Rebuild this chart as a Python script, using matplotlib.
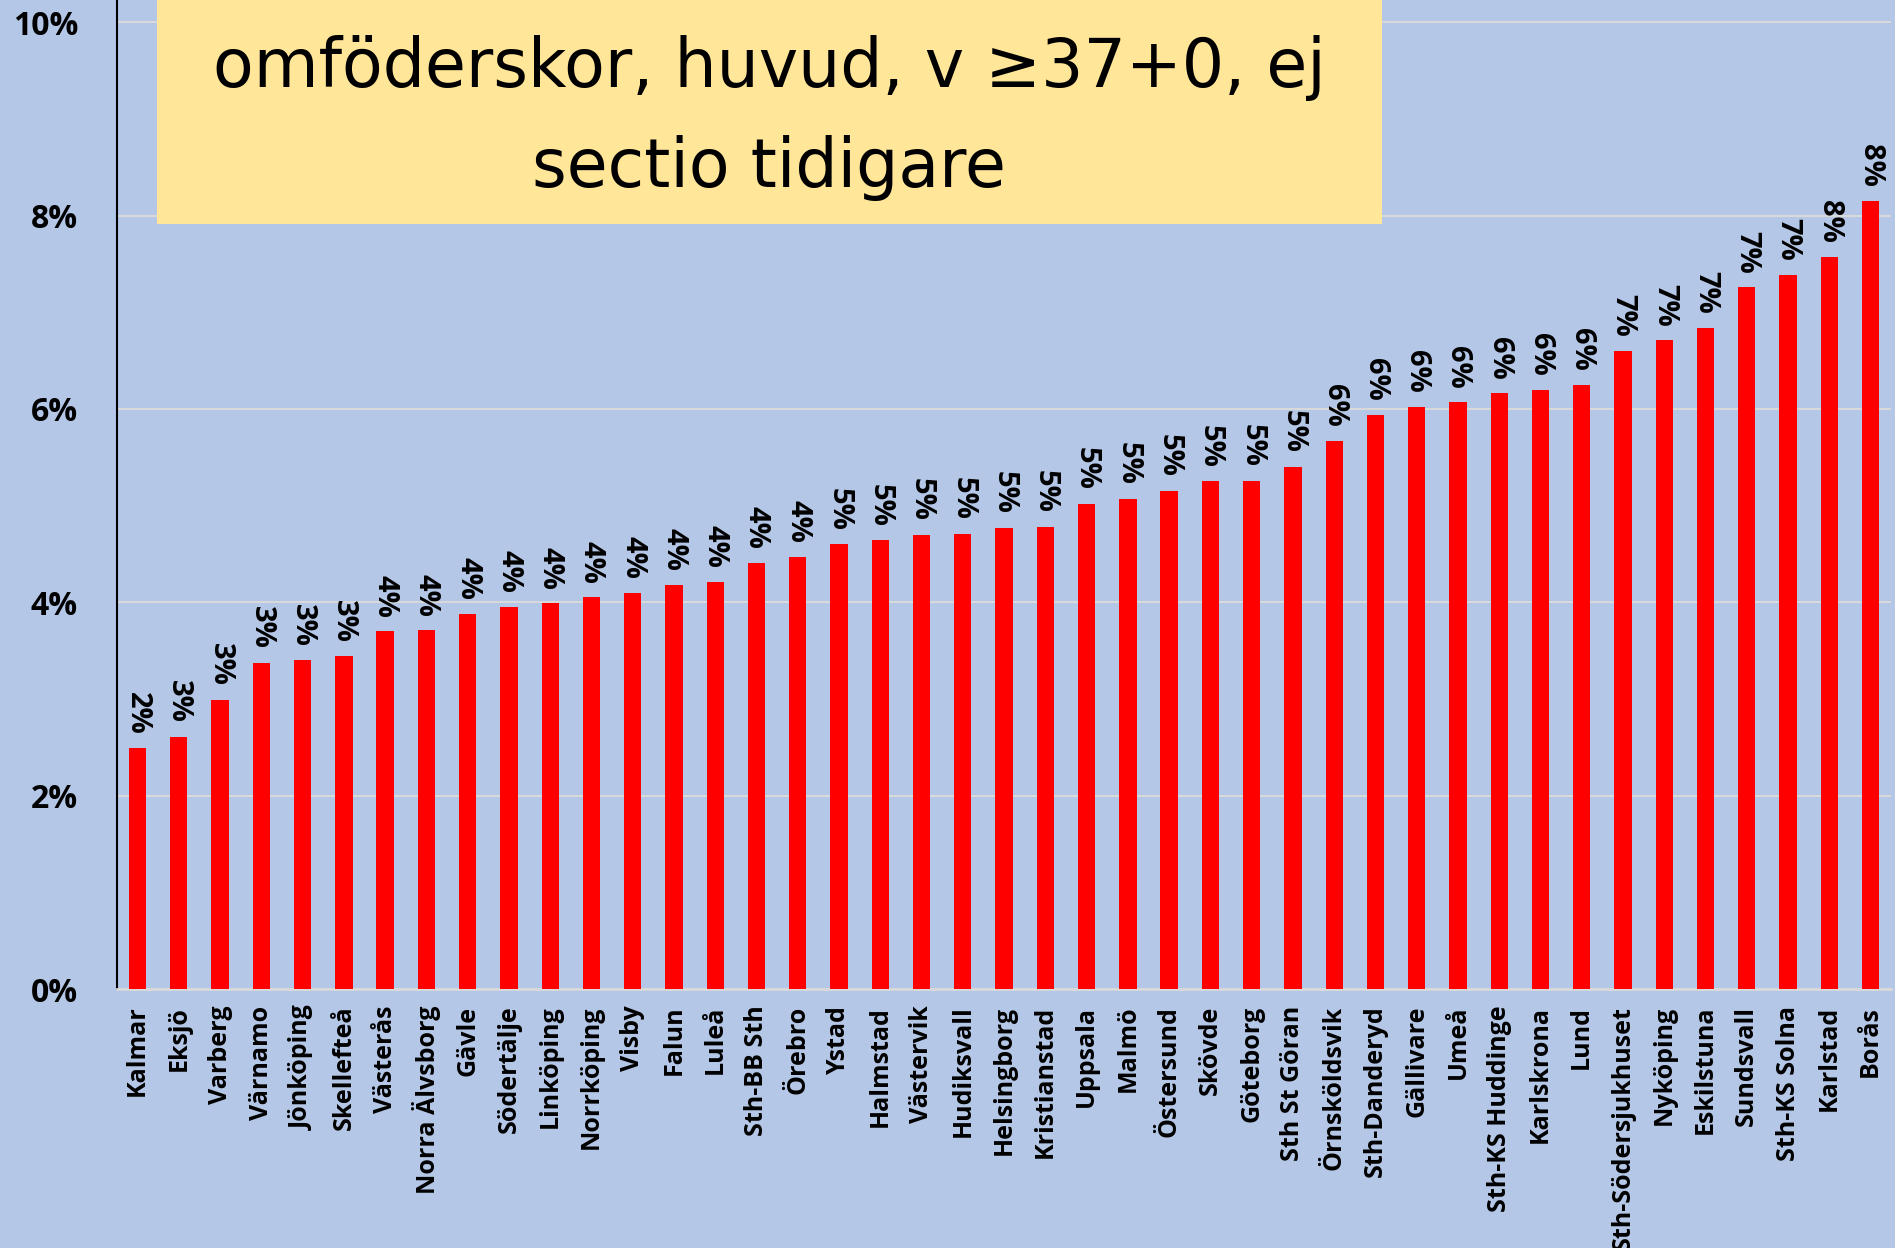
import matplotlib
matplotlib.use('Agg')
import matplotlib.pyplot as plt
from matplotlib.patches import Rectangle
from matplotlib.ticker import FuncFormatter

# kliniker och andel (%) omföderskor med huvudbjudning, v >=37+0, ej sectio tidigare
kliniker = ['Kalmar', 'Eksjö', 'Varberg', 'Värnamo', 'Jönköping', 'Skellefteå',
            'Västerås', 'Norra Älvsborg', 'Gävle', 'Södertälje', 'Linköping',
            'Norrköping', 'Visby', 'Falun', 'Luleå', 'Sth-BB Sth', 'Örebro',
            'Ystad', 'Halmstad', 'Västervik', 'Hudiksvall', 'Helsingborg',
            'Kristianstad', 'Uppsala', 'Malmö', 'Östersund', 'Skövde', 'Göteborg',
            'Sth St Göran', 'Örnsköldsvik', 'Sth-Danderyd', 'Gällivare', 'Umeå',
            'Sth-KS Huddinge', 'Karlskrona', 'Lund', 'Sth-Södersjukhuset',
            'Nyköping', 'Eskilstuna', 'Sundsvall', 'Sth-KS Solna', 'Karlstad', 'Borås']
andel = [2.49, 2.61, 2.99, 3.37, 3.40, 3.44, 3.70, 3.71, 3.88, 3.95, 3.99,
         4.05, 4.10, 4.18, 4.21, 4.41, 4.47, 4.60, 4.64, 4.70, 4.71, 4.77,
         4.78, 5.02, 5.07, 5.15, 5.25, 5.26, 5.40, 5.67, 5.94, 6.02, 6.07,
         6.16, 6.20, 6.25, 6.60, 6.71, 6.84, 7.26, 7.39, 7.57, 8.15]
yticks = [0, 2, 4, 6, 8, 10]
titel = ['omföderskor, huvud, v \u226537+0, ej', 'sectio tidigare']

bg = '#B4C7E7'
fig = plt.figure(figsize=(18.95, 12.48), dpi=100, facecolor=bg)
ax = fig.add_axes([0.0617, 0.2075, 0.9363, 0.7925])
ax.set_facecolor(bg)

x = range(len(kliniker))
bars = ax.bar(x, andel, width=0.42, color='#FF0000', zorder=3)
for xi, v in zip(x, andel):
    ax.annotate('{:.0f}%'.format(v), (xi, v), xytext=(0, 10), textcoords='offset points',
                rotation=-90, ha='center', va='bottom', fontsize=21,
                fontweight='bold', family='Open Sans', zorder=4)

ax.set_xlim(-0.5, len(kliniker) - 0.5)
ax.set_ylim(0, 10.23)
ax.set_yticks(yticks)
ax.yaxis.set_major_formatter(FuncFormatter(lambda v, p: '%d%%' % v))
ax.grid(axis='y', color='#D9D9D9', linewidth=1.5, zorder=0)
ax.set_xticks(list(x))
ax.set_xticklabels(kliniker, rotation=90, fontsize=18, fontweight='bold', family='Open Sans')
for lab in ax.get_yticklabels():
    lab.set_fontsize(23)
    lab.set_fontweight('bold')
    lab.set_family('Open Sans')
ax.tick_params(axis='both', length=0)
ax.tick_params(axis='y', pad=28)
ax.tick_params(axis='x', pad=12)
for s in ['top', 'right']:
    ax.spines[s].set_visible(False)
ax.spines['bottom'].set_color('#D9D9D9')
ax.spines['bottom'].set_linewidth(2)
ax.spines['left'].set_color('black')
ax.spines['left'].set_linewidth(1.5)

# gul titelruta
fig.add_artist(Rectangle((0.0829, 0.8205), 0.6464, 0.1795, transform=fig.transFigure,
                         facecolor='#FFE699', edgecolor='none', zorder=5))
fig.text(0.406, 1 - 68 / 1248, titel[0], ha='center', va='center', fontsize=48, zorder=6)
fig.text(0.406, 1 - 168 / 1248, titel[1], ha='center', va='center', fontsize=48, zorder=6)

fig.savefig('out.png', dpi=100, facecolor=bg)
